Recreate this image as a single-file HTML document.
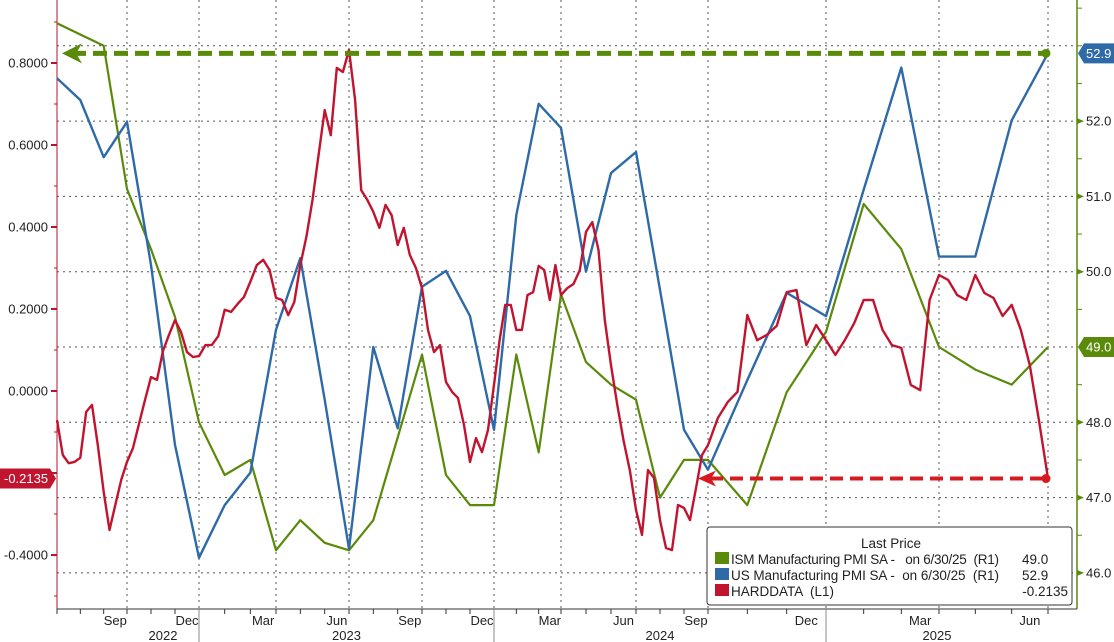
<!DOCTYPE html>
<html><head><meta charset="utf-8">
<style>
body{margin:0;background:#fff;}
svg{display:block;font-family:"Liberation Sans",sans-serif;}
</style></head>
<body>
<svg id="chart" width="1114" height="642" viewBox="0 0 1114 642"></svg>
<script>
// ---- data ----
const quarterLabels = ["Sep","Dec","Mar","Jun","Sep","Dec","Mar","Jun","Sep","Dec","Mar","Jun"];
const yearLabels = ["2022","2023","2024","2025"];
const leftTicks = [0.8,0.6,0.4,0.2,0,-0.2,-0.4];
const rightTicks = [52,51,50,48,47,46];
// monthly, Jun 2022 .. Jun 2025 (37 points)
const ismValues = [53.3,53.15,53.0,51.1,50.3,49.4,48.0,47.3,47.5,46.3,46.7,46.4,46.3,46.7,47.8,48.9,47.3,46.9,46.9,48.9,47.6,49.7,48.8,48.5,48.3,47.0,47.5,47.5,46.9,48.4,49.2,50.9,50.3,49.0,48.7,48.5,49.0];
const usPmiValues = [52.57,52.28,51.52,51.99,50.09,47.7,46.2,46.9,47.33,49.23,50.18,48.3,46.32,49.0,47.92,49.8,50.01,49.41,47.9,50.75,52.23,51.91,50.0,51.31,51.59,49.76,47.9,47.37,48.56,49.72,49.41,51.09,52.71,50.2,50.2,52.01,52.9];
// quarter-monthly, Jun 2022 .. Jun 2025 (145 points)
const hardValues = [
-0.071,-0.156,-0.176,-0.173,-0.163,-0.051,-0.034,-0.132,-0.246,-0.339,-0.278,-0.217,
-0.173,-0.139,-0.080,-0.022,0.034,0.027,0.098,0.137,0.173,0.144,0.095,0.083,
0.085,0.112,0.112,0.134,0.198,0.193,0.212,0.229,0.266,0.307,0.320,0.295,
0.227,0.222,0.185,0.217,0.307,0.376,0.466,0.576,0.685,0.624,0.788,0.778,
0.832,0.710,0.490,0.466,0.437,0.398,0.454,0.429,0.356,0.398,0.332,0.300,
0.251,0.149,0.095,0.112,0.022,-0.002,-0.017,-0.083,-0.173,-0.115,-0.149,-0.095,
0.015,0.124,0.210,0.210,0.149,0.149,0.234,0.241,0.305,0.295,0.222,0.307,
0.234,0.251,0.261,0.295,0.388,0.412,0.344,0.173,0.063,-0.034,-0.120,-0.193,
-0.290,-0.351,-0.193,-0.212,-0.315,-0.383,-0.388,-0.278,-0.285,-0.315,-0.237,-0.156,
-0.132,-0.066,-0.027,-0.002,0.185,0.124,0.137,0.159,0.241,0.246,0.112,0.161,
0.124,0.088,0.124,0.166,0.222,0.222,0.149,0.112,0.105,0.015,0.002,0.222,
0.283,0.271,0.234,0.222,0.283,0.239,0.227,0.183,0.210,0.149,0.063,-0.071,-0.2135];
const lastIsm = 49.0, lastUs = 52.9, lastHard = -0.2135;

// ---- scales ----
const NS='http://www.w3.org/2000/svg';
const svg=document.getElementById('chart');
const anchorX=[57,127,199,276,349,422,494,561,636,708,826,939,1048];
function xScale(m){
  let q=Math.floor(m/3); if(q>=anchorX.length-1) q=anchorX.length-2; if(q<0) q=0;
  const f=(m-q*3)/3; return anchorX[q]+f*(anchorX[q+1]-anchorX[q]);
}
function yL(v){return 391-v*410;}
function yR(v){return 347-(v-49)*75.3;}
function el(tag,attrs,parent){const e=document.createElementNS(NS,tag);for(const k in attrs)e.setAttribute(k,attrs[k]);(parent||svg).appendChild(e);return e;}

// grid
const grid=el('g',{});


for(let v=46;v<=53;v++){el('line',{x1:57,x2:1077,y1:yR(v),y2:yR(v),stroke:'#555','stroke-width':1,'stroke-dasharray':'2,4'},grid);}
for(let q=1;q<=12;q++){const x=xScale(q*3);el('line',{x1:x,x2:x,y1:0,y2:609,stroke:'#555','stroke-width':1,'stroke-dasharray':'2,4'},grid);}

// axes
const axL=el('line',{x1:57,x2:57,y1:0,y2:609,stroke:'#b5142c','stroke-width':1});


const axR=el('line',{x1:1077,x2:1077,y1:0,y2:609,stroke:'#5a8a0a','stroke-width':1.5});


el('line',{x1:57,x2:1077,y1:609,y2:609,stroke:'#333','stroke-width':1});
leftTicks.forEach(v=>{
  const y=yL(v);
  el('line',{x1:51,x2:57,y1:y,y2:y,stroke:'#b5142c','stroke-width':2});
  const t=el('text',{x:48,y:y+4.5,'text-anchor':'end','font-size':13,fill:'#222'});
  t.textContent=v.toFixed(4);
  
  
});
for(let v=-0.5;v<=0.9;v+=0.1){el('line',{x1:54,x2:57,y1:yL(v),y2:yL(v),stroke:'#b5142c'});}
for(let v=46;v<=53.5;v+=0.5){el('line',{x1:1077,x2:1082,y1:yR(v),y2:yR(v),stroke:'#5a8a0a'});}
rightTicks.forEach(v=>{
  const y=yR(v);
  el('path',{d:`M1077 ${y-3}L1084 ${y}L1077 ${y+3}Z`,fill:'#5a8a0a'});
  const t=el('text',{x:1086,y:y+4.5,'font-size':13,fill:'#222'});
  t.textContent=v.toFixed(1);
  
  
});
for(let m=0;m<=36;m++){el('line',{x1:xScale(m),x2:xScale(m),y1:609,y2:614,stroke:'#333'});}
quarterLabels.forEach((lab,i)=>{
  const m=(i+1)*3;const x=(xScale(m-1)+xScale(m))/2;
  const t=el('text',{x:x,y:625,'text-anchor':'middle','font-size':13,fill:'#222'});
  t.textContent=lab;
  
  
});
const yearSep=[6,18,30];
yearSep.forEach(m=>{el('line',{x1:xScale(m),x2:xScale(m),y1:609,y2:642,stroke:'#888'});});
const yearBounds=[[0,6],[6,18],[18,30],[30,36]];
yearLabels.forEach((lab,i)=>{
  const x=(xScale(yearBounds[i][0])+xScale(yearBounds[i][1]))/2+(i==0?35:0);
  const t=el('text',{x:x,y:640,'text-anchor':'middle','font-size':13,fill:'#222'});
  t.textContent=lab;
  
  
});

// series
function line(values,xf,yf,color,w,name){
  const d=values.map((v,i)=>(i?'L':'M')+xf(i).toFixed(1)+' '+yf(v).toFixed(1)).join('');
  const p=el('path',{d:d,fill:'none',stroke:color,'stroke-width':w,'stroke-linejoin':'round'});
  
  
}
line(ismValues,i=>xScale(i),yR,'#5a8a0a',2.2,'ism-pmi-line');
line(usPmiValues,i=>xScale(i),yR,'#2f6aa8',2.4,'us-pmi-line');
line(hardValues,i=>xScale(i/4),yL,'#c0142f',2.4,'harddata-line');

// annotations
const endX=xScale(36);
const gy=yR(lastUs);
const ga=el('line',{x1:72,x2:endX,y1:gy,y2:gy,stroke:'#5a8a0a','stroke-width':5,'stroke-dasharray':'14,7'});


el('path',{d:`M62 ${gy}L82 ${gy-10}L76 ${gy}L82 ${gy+10}Z`,fill:'#5a8a0a'});
el('circle',{cx:endX-2,cy:gy,r:4.5,fill:'#5a8a0a'});
const ry=yL(lastHard);
const ra=el('line',{x1:710,x2:endX,y1:ry,y2:ry,stroke:'#d71920','stroke-width':4,'stroke-dasharray':'13,7'});


el('path',{d:`M698 ${ry}L716 ${ry-8}L711 ${ry}L716 ${ry+8}Z`,fill:'#d71920'});
el('circle',{cx:endX-2,cy:ry,r:4.5,fill:'#d71920'});

// value tags
function tag(x,y,w,color,text,side,name){
  const g=el('g',{});
  
  
  const d=side==='r'?`M${x} ${y}L${x+6} ${y-10}H${x+w}V${y+10}H${x+6}Z`:`M${x} ${y-10}H${x+w-6}L${x+w} ${y}L${x+w-6} ${y+10}H${x}Z`;
  el('path',{d:d,fill:color},g);
  const t=el('text',{x:side==='r'?x+8:x+4,y:y+4.5,'font-size':13,fill:'#fff'},g);
  t.textContent=text;
}
tag(1078,yR(lastUs),36,'#2f6aa8',lastUs.toFixed(1),'r','us-pmi-last-tag');
tag(1078,yR(lastIsm),36,'#5a8a0a',lastIsm.toFixed(1),'r','ism-last-tag');
tag(0,yL(lastHard),56,'#c0142f',lastHard.toFixed(4),'l','harddata-last-tag');

// legend
const lg=el('g',{});


el('rect',{x:707,y:527,width:365,height:78,rx:3,fill:'#fff',stroke:'#333','stroke-width':1},lg);
const lt=el('text',{x:891,y:548,'text-anchor':'middle','font-size':13.5,fill:'#222'},lg);lt.textContent='Last Price';
const rows=[['#5a8a0a','ISM Manufacturing PMI SA -   on 6/30/25  (R1)','49.0'],['#2f6aa8','US Manufacturing PMI SA -  on 6/30/25  (R1)','52.9'],['#c0142f','HARDDATA  (L1)','-0.2135']];
rows.forEach((r,i)=>{
  const y=562+i*16;
  const s=el('rect',{x:715,y:y-10,width:14,height:12,fill:r[0]},lg);
  
  
  const t=el('text',{x:731,y:y+2,'font-size':13.5,fill:'#222'},lg);
  if(i<2){t.setAttribute('textLength',268);t.setAttribute('lengthAdjust','spacing');}
  t.style.whiteSpace='pre';t.textContent=r[1];
  
  
  const v=el('text',{x:i==2?1068:1022,y:y+2,'font-size':13.5,fill:'#222','text-anchor':i==2?'end':'start'},lg);
  v.textContent=r[2];
});
</script>
</body></html>
